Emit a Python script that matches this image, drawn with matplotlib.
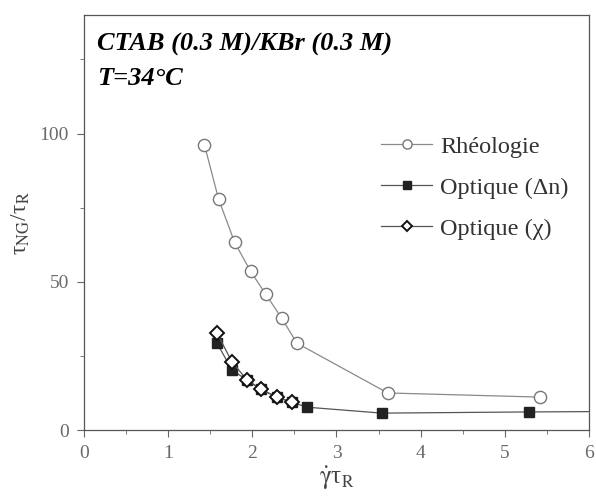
import matplotlib
matplotlib.use("Agg")
import matplotlib.pyplot as plt
from matplotlib.ticker import MultipleLocator

# Data
rheo_x = [1.43, 1.60, 1.79, 1.98, 2.16, 2.35, 2.53, 3.61, 5.42]
rheo_y = [96.3, 77.8, 63.3, 53.5, 45.8, 37.7, 29.3, 12.5, 11.1]

dn_x = [1.58, 1.76, 1.94, 2.10, 2.29, 2.47, 2.65, 3.54, 5.29, 6.6]
dn_y = [29.3, 20.2, 16.8, 13.8, 11.1, 9.4, 7.7, 5.7, 6.1, 6.3]

chi_x = [1.58, 1.76, 1.94, 2.10, 2.29, 2.47]
chi_y = [32.7, 22.9, 16.8, 13.8, 11.1, 9.4]

labels = ["Rhéologie", "Optique (Δn)", "Optique (χ)"]

plt.rcParams["font.family"] = ["Liberation Serif", "DejaVu Serif"]
plt.rcParams["mathtext.fontset"] = "stix"

fig = plt.figure(figsize=(5.96, 4.98), dpi=100)
ax = fig.add_axes([0.141, 0.1365, 0.847, 0.8335])

line_col = "#8a8a8a"
ax.plot(rheo_x, rheo_y, color=line_col, lw=0.9, marker="o", ms=8.8,
        mfc="white", mec="#777777", mew=1.0, label=labels[0], zorder=3)
ax.plot(dn_x, dn_y, color="#555555", lw=0.9, marker="s", ms=7.5,
        mfc="#222222", mec="#222222", label=labels[1], zorder=4)
ax.plot(chi_x, chi_y, color="#555555", lw=0.9, marker="D", ms=7,
        mfc="white", mec="#111111", mew=1.4, label=labels[2], zorder=5)

ax.set_xlim(0, 6)
ax.set_ylim(0, 140)
ax.xaxis.set_major_locator(MultipleLocator(1))
ax.xaxis.set_minor_locator(MultipleLocator(0.5))
ax.yaxis.set_major_locator(MultipleLocator(50))
ax.yaxis.set_minor_locator(MultipleLocator(25))
ax.tick_params(which="major", length=5, color="#666666", labelcolor="#6a6a6a",
               labelsize=14, pad=6)
ax.tick_params(which="minor", length=3, color="#666666")
for s in ax.spines.values():
    s.set_color("#555555")
    s.set_linewidth(0.9)

ax.set_xlabel(r"$\dot{\mathrm{\gamma}}$τ$_{\mathrm{R}}$", fontsize=18,
              color="#444444", labelpad=1)
ax.set_ylabel(r"τ$_{\mathrm{NG}}$/τ$_{\mathrm{R}}$", fontsize=17,
              color="#444444", labelpad=5)

ax.text(0.025, 0.928, "CTAB (0.3 M)/KBr (0.3 M)", transform=ax.transAxes,
        fontsize=19, fontweight="bold", fontstyle="italic", va="center")
ax.text(0.025, 0.848, "T=34°C", transform=ax.transAxes,
        fontsize=19, fontweight="bold", fontstyle="italic", va="center")

ax.legend(loc="upper left", bbox_to_anchor=(0.545, 0.762), frameon=False,
          fontsize=17.5, handlelength=2.1, handletextpad=0.33, labelspacing=0.78,
          markerscale=0.75, labelcolor="#333333")

fig.savefig("out.png", dpi=100)
